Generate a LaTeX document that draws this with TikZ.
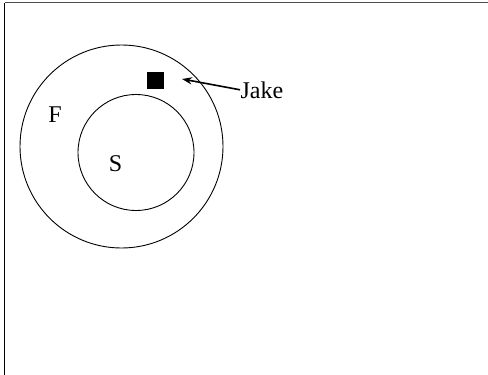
\documentclass[tikz,border=0pt]{standalone}
\usepackage{fontspec}
\setmainfont{Liberation Serif}
\usepackage{tikz}
\usetikzlibrary{arrows.meta, positioning}
\tikzset{
    set/.style ={circle, draw, inner sep=0pt, line width=0.45pt},
    member/.style ={rectangle, fill=black, inner sep=0pt, minimum size=8.5pt},
    lbl/.style = {inner sep=0pt, font=\fontsize{12}{14}\selectfont}
    }

\begin{document}
\begin{tikzpicture}[
      x=0.5pt, y=-0.5pt, % one unit per pixel
      > = {Stealth[length=5pt, width=3.6pt]}, % arrow head style
      semithick % line style
    ]
    \useasboundingbox (0,0) rectangle (488,375);

    % frame
    \draw[line width=0.5pt, black!70] (4.5,2.5) -- (488,2.5);
    \draw[line width=0.5pt] (4.5,375) -- (4.5,2.5);

    \node[set, minimum size=101.5pt] (F) at (121.5, 146.5) {};
    \node[set, minimum size=58pt] (S) at (136, 152.5) {};

    \node[lbl] (f) at (55, 115) {F};
    \node[lbl] (s) at (115.5, 164) {S};

    \node[member] (jk) at (155.5, 80) {};
    \node[lbl, anchor=base west] (jake) at (240, 98) {Jake};

    \coordinate (tip) at (182, 79);
    \draw[->, line width=0.8pt] (jake.west) -- (tip);
\end{tikzpicture}
\end{document}
